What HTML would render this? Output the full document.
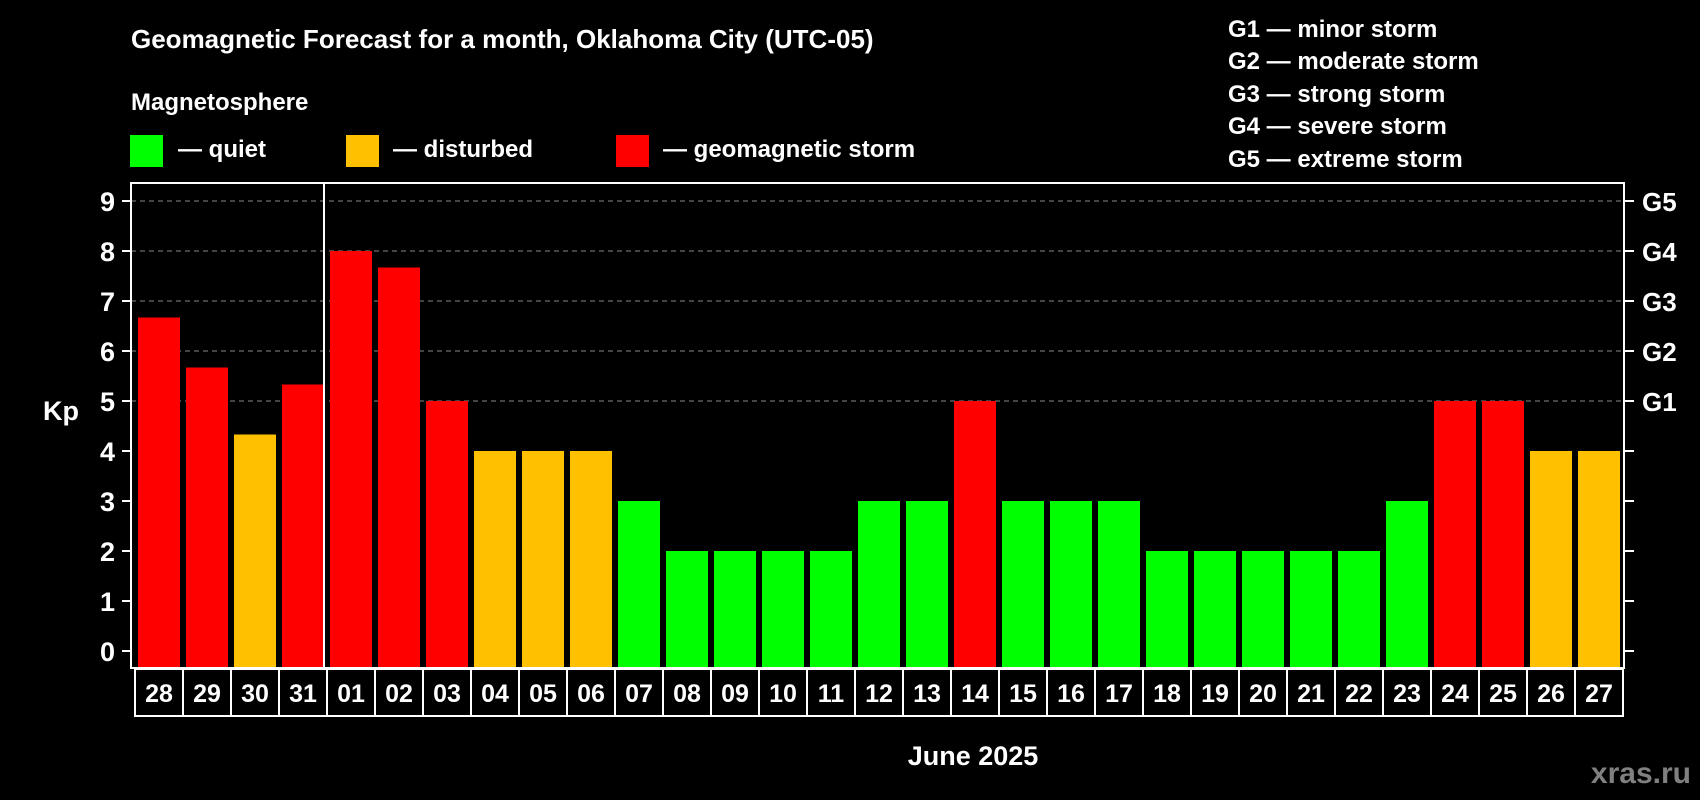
<!DOCTYPE html>
<html><head><meta charset="utf-8"><style>
html,body{margin:0;padding:0;background:#000;}
svg{display:block;font-family:"Liberation Sans",Arial,sans-serif;font-weight:bold;}
</style></head><body>
<svg width="1700" height="800" viewBox="0 0 1700 800" id="chart">
<rect x="0" y="0" width="1700" height="800" fill="#000"/>
<text x="131" y="48" font-size="26" fill="#fff">Geomagnetic Forecast for a month, Oklahoma City (UTC-05)</text>
<text x="131" y="110" font-size="24" fill="#fff">Magnetosphere</text>
<rect x="130" y="135" width="33" height="32" fill="#00ff00"/>
<text x="178" y="157" font-size="24" fill="#fff">— quiet</text>
<rect x="346" y="135" width="33" height="32" fill="#ffc000"/>
<text x="393" y="157" font-size="24" fill="#fff">— disturbed</text>
<rect x="616" y="135" width="33" height="32" fill="#ff0000"/>
<text x="663" y="157" font-size="24" fill="#fff">— geomagnetic storm</text>
<g font-size="24" fill="#fff">
<text x="1228" y="37">G1 — minor storm</text>
<text x="1228" y="69">G2 — moderate storm</text>
<text x="1228" y="102">G3 — strong storm</text>
<text x="1228" y="134">G4 — severe storm</text>
<text x="1228" y="167">G5 — extreme storm</text>
</g>
<text x="43" y="420" font-size="27" fill="#fff">Kp</text>
<text x="973" y="765" font-size="27" fill="#fff" text-anchor="middle">June 2025</text>
<text x="1691" y="783" font-size="30" fill="#808080" text-anchor="end">xras.ru</text>
<g id="grid"></g><g id="bars"></g><g id="axes"></g><g id="labels"></g>
</svg>
<script>
const days = ["28","29","30","31","01","02","03","04","05","06","07","08","09","10","11","12","13","14","15","16","17","18","19","20","21","22","23","24","25","26","27"];
const kpValues = [6.67,5.67,4.33,5.33,8,7.67,5,4,4,4,3,2,2,2,2,3,3,5,3,3,3,2,2,2,2,2,3,5,5,4,4];
const yTicks = [0,1,2,3,4,5,6,7,8,9];
const gTicks = [5,6,7,8,9];
const gLabels = ["G1","G2","G3","G4","G5"];
const monthBreakIndex = 4;

const NS = "http://www.w3.org/2000/svg";
const plotL = 131, plotR = 1624, plotT = 183, plotB = 668;
const x0 = 135, step = 48, barW = 42;
function yScale(v){ return 651 - 50 * v; }
function xScale(i){ return x0 + i * step; }
function color(v){ return v >= 5 ? "#ff0000" : (v >= 4 ? "#ffc000" : "#00ff00"); }
function mk(tag, attrs, parent){ const e = document.createElementNS(NS, tag); for (const k in attrs) e.setAttribute(k, attrs[k]); parent.appendChild(e); return e; }

const grid = document.getElementById("grid"), barsG = document.getElementById("bars"), axes = document.getElementById("axes"), labels = document.getElementById("labels");

gTicks.forEach(function(t){
  const l = mk("line", {x1: plotL, x2: plotR, y1: yScale(t), y2: yScale(t), stroke: "#888", "stroke-width": 1, "stroke-dasharray": "5,4"}, grid);
  
  
});

kpValues.forEach(function(v, i){
  const r = mk("rect", {x: xScale(i) + 3, y: yScale(v), width: barW, height: plotB - yScale(v), fill: color(v)}, barsG);
  
  
});

const frame = mk("rect", {x: plotL, y: plotT, width: plotR - plotL, height: plotB - plotT, fill: "none", stroke: "#fff", "stroke-width": 2}, axes);



const divX = xScale(monthBreakIndex) - 8 + 3 + 2;
const div = mk("line", {x1: xScale(monthBreakIndex) - 3 + 3 - 3 + 0, x2: xScale(monthBreakIndex) - 3, y1: plotT, y2: plotB, stroke: "#fff", "stroke-width": 2}, axes);



yTicks.forEach(function(t){
  const y = yScale(t);
  const tl = mk("line", {x1: 122, x2: plotL, y1: y, y2: y, stroke: "#fff", "stroke-width": 2}, axes);
  
  
  const tr = mk("line", {x1: plotR, x2: plotR + 10, y1: y, y2: y, stroke: "#fff", "stroke-width": 2}, axes);
  
  
  const tx = mk("text", {x: 115, y: y + 10, "font-size": 27, fill: "#fff", "text-anchor": "end"}, labels);
  tx.textContent = String(t);
  
  
});

gTicks.forEach(function(t, i){
  const tx = mk("text", {x: 1642, y: yScale(t) + 10, "font-size": 26, fill: "#fff"}, labels);
  tx.textContent = gLabels[i];
  
  
});

days.forEach(function(d, i){
  const c = mk("rect", {x: xScale(i), y: 669, width: step, height: 47, fill: "#000", stroke: "#fff", "stroke-width": 2}, labels);
  
  
  const tx = mk("text", {x: xScale(i) + step / 2, y: 702, "font-size": 25, fill: "#fff", "text-anchor": "middle"}, labels);
  tx.textContent = d;
  
  
});
</script>
</body></html>
